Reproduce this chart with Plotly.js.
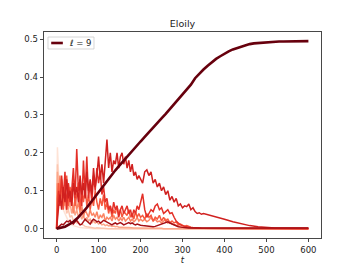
<!DOCTYPE html>
<html>
<head>
<meta charset="utf-8">
<script src="https://cdn.plot.ly/plotly-3.0.1.min.js"></script>
<style>html,body{margin:0;padding:0;background:#fff;}#chart{width:357px;height:268px;}</style>
</head>
<body>
<div id="chart"></div>
<script>
// Sample times for the noisy curves
const T = [0,2,5,
8,12,16,20,24,28,32,36,40,44,
48,52,56,60,64,68,72,76,80,84,
88,92,96,100,104,108,112,116,120,124,
128,132,136,140,144,148,152,156,160,164,
168,172,176,180,184,188,192,196,200,
205,210,215,220,225,230,235,240,245,250,
255,260,265,270,275,280,285,290,295,300,
305,310,315,320,325,330,335,340,345,350,
360,380,400,420,440,460,480,500,520,540,560,580,600];

// ell = 1
const ell1 = [0,0.215,0.14,
0.1,0.07,0.05,0.04,0.03,0.02,0.015,0.01,0.008,0.006,
0.005,0.004,0.003,0.002,0.002,0.001,0.001,0.001,0,0,
0,0,0,0,0,0,0,0,0,0,
0,0,0,0,0,0,0,0,0,0,
0,0,0,0,0,0,0,0,0,
0,0,0,0,0,0,0,0,0,0,
0,0,0,0,0,0,0,0,0,0,
0,0,0,0,0,0,0,0,0,0,
0,0,0,0,0,0,0,0,0,0,0,0,0];
// ell = 2
const ell2 = [0,0.17,0.12,
0.09,0.11,0.06,0.08,0.04,0.05,0.03,0.035,0.02,0.025,
0.015,0.018,0.01,0.012,0.008,0.006,0.005,0.004,0.003,0.002,
0.002,0.001,0.002,0.001,0.001,0.001,0.001,0,0,0,
0,0,0,0,0,0,0,0,0,0,
0,0,0,0,0,0,0,0,0,
0,0,0,0,0,0,0,0,0,0,
0,0,0,0,0,0,0,0,0,0,
0,0,0,0,0,0,0,0,0,0,
0,0,0,0,0,0,0,0,0,0,0,0,0];
// ell = 3
const ell3 = [0,0.15,0.1,
0.13,0.08,0.1,0.06,0.09,0.05,0.07,0.04,0.06,0.035,
0.05,0.03,0.04,0.025,0.035,0.02,0.03,0.02,0.025,0.015,
0.02,0.015,0.018,0.012,0.015,0.01,0.012,0.008,0.01,0.007,
0.008,0.006,0.007,0.005,0.006,0.004,0.005,0.004,0.003,0.004,
0.003,0.003,0.002,0.003,0.002,0.002,0.002,0.001,0.002,
0.001,0.002,0.001,0.001,0.001,0.001,0.001,0.001,0.001,0.001,
0,0,0,0,0,0,0,0,0,0,
0,0,0,0,0,0,0,0,0,0,
0,0,0,0,0,0,0,0,0,0,0,0,0];
// ell = 4
const ell4 = [0,0.12,0.08,
0.14,0.06,0.11,0.09,0.05,0.12,0.07,0.09,0.04,0.08,
0.05,0.07,0.04,0.06,0.03,0.05,0.04,0.03,0.05,0.035,
0.04,0.03,0.045,0.025,0.035,0.03,0.04,0.02,0.03,0.025,
0.03,0.02,0.035,0.025,0.03,0.02,0.028,0.022,0.03,0.02,
0.025,0.03,0.02,0.025,0.018,0.022,0.03,0.02,0.025,
0.02,0.025,0.018,0.022,0.03,0.02,0.025,0.018,0.02,0.015,
0.02,0.025,0.015,0.018,0.012,0.01,0.008,0.006,0.005,0.004,
0.003,0.003,0.002,0.002,0.002,0.001,0.001,0.001,0.001,0.001,
0,0,0,0,0,0,0,0,0,0,0,0,0];
// ell = 5
const ell5 = [0,0.08,0.12,
0.07,0.13,0.05,0.1,0.14,0.06,0.11,0.08,0.13,0.06,
0.09,0.12,0.05,0.1,0.07,0.11,0.06,0.09,0.05,0.08,
0.06,0.1,0.07,0.05,0.08,0.06,0.09,0.05,0.07,0.04,
0.06,0.03,0.05,0.04,0.06,0.035,0.05,0.03,0.045,0.04,
0.035,0.05,0.03,0.04,0.025,0.045,0.03,0.04,0.03,
0.035,0.025,0.04,0.03,0.035,0.02,0.03,0.025,0.035,0.02,
0.03,0.02,0.025,0.015,0.02,0.015,0.018,0.01,0.012,0.008,
0.006,0.008,0.005,0.004,0.003,0.003,0.002,0.002,0.001,0.001,
0.001,0,0,0,0,0,0,0,0,0,0,0,0];
// ell = 6
const ell6 = [0,0.05,0.1,
0.06,0.14,0.08,0.15,0.05,0.12,0.07,0.1,0.16,0.08,
0.21,0.1,0.13,0.06,0.18,0.09,0.19,0.08,0.12,0.07,
0.14,0.1,0.16,0.12,0.15,0.09,0.11,0.07,0.08,0.05,
0.06,0.04,0.07,0.05,0.06,0.03,0.05,0.06,0.04,0.05,
0.06,0.04,0.05,0.03,0.05,0.04,0.06,0.05,0.07,
0.092,0.05,0.03,0.04,0.05,0.045,0.06,0.065,0.05,0.055,
0.04,0.045,0.05,0.04,0.042,0.03,0.02,0.015,0.01,0.008,
0.006,0.005,0.004,0.003,0.003,0.002,0.002,0.001,0.001,0.001,
0.001,0.001,0,0,0,0,0,0,0,0,0,0,0];
// ell = 7
const ell7 = [0,0.03,0.06,
0.09,0.05,0.11,0.07,0.13,0.08,0.1,0.06,0.12,0.09,
0.11,0.07,0.14,0.09,0.12,0.08,0.15,0.1,0.13,0.09,
0.16,0.11,0.14,0.19,0.13,0.17,0.12,0.18,0.235,0.16,
0.2,0.15,0.18,0.17,0.2,0.16,0.19,0.2,0.17,0.19,
0.16,0.18,0.15,0.17,0.14,0.15,0.13,0.14,0.13,
0.12,0.15,0.155,0.14,0.15,0.12,0.13,0.11,0.12,0.1,
0.11,0.09,0.1,0.075,0.085,0.07,0.08,0.06,0.065,0.055,
0.06,0.058,0.065,0.05,0.055,0.045,0.04,0.042,0.038,0.04,
0.037,0.032,0.025,0.018,0.012,0.008,0.005,0.003,0.002,0.002,0.002,0.002,0.002];
// ell = 8
const ell8 = [0,0.002,0.005,
0.008,0.012,0.01,0.015,0.02,0.018,0.022,0.015,0.012,0.018,
0.022,0.015,0.01,0.012,0.018,0.025,0.02,0.015,0.012,0.02,
0.025,0.022,0.018,0.02,0.015,0.018,0.022,0.02,0.018,0.015,
0.012,0.01,0.013,0.015,0.012,0.014,0.016,0.013,0.01,0.012,
0.014,0.016,0.013,0.015,0.012,0.01,0.012,0.01,0.009,
0.008,0.007,0.006,0.005,0.004,0.005,0.006,0.008,0.01,0.012,
0.014,0.016,0.018,0.015,0.012,0.01,0.007,0.005,0.004,0.003,
0.002,0.002,0.002,0.002,0.002,0.002,0.002,0.002,0.002,0.002,
0.002,0.002,0.002,0.002,0.002,0.002,0.002,0.002,0.002,0.002,0.002,0.002,0.002];

// ell = 9 (smooth curve)
const tS = [0,10,20,30,40,50,60,70,80,90,
100,110,120,130,140,150,160,170,180,190,
200,210,220,230,240,250,260,270,280,290,
300,310,320,330,340,350,360,370,380,390,
400,410,420,430,440,450,460,470,480,490,
500,510,520,530,540,550,560,570,580,590,600];
const ell9 = [0,0.002,0.005,0.011,0.018,0.028,0.04,0.053,0.067,0.082,
0.097,0.112,0.126,0.14,0.154,0.167,0.18,0.193,0.206,0.219,
0.23,0.242,0.255,0.268,0.28,0.291,0.303,0.316,0.328,0.34,
0.353,0.367,0.38,0.397,0.41,0.42,0.43,0.44,0.448,0.455,
0.462,0.468,0.473,0.477,0.481,0.484,0.487,0.489,0.49,0.491,
0.492,0.493,0.493,0.494,0.494,0.494,0.494,0.495,0.495,0.495,0.495];

const noisy = [ell1, ell2, ell3, ell4, ell5, ell6, ell7, ell8];
const colors = ['#fee3d6','#fdc6b0','#fca689','#fb8464','#f6583e','#e32f27','#d0201f','#a50f15'];
const xTicks = [0,100,200,300,400,500,600];
const yTicks = [0,0.1,0.2,0.3,0.4,0.5];

const traces = noisy.map((v, i) => ({
  x: T, y: v, type: 'scatter', mode: 'lines',
  line: {color: colors[i], width: 1.5}, showlegend: false, hoverinfo: 'skip'
}));
traces.push({x: tS, y: ell9, type: 'scatter', mode: 'lines',
  line: {color: '#67000d', width: 2.6}, showlegend: false, hoverinfo: 'skip'});

const font = {family: 'DejaVu Sans, sans-serif', size: 8.5, color: '#222'};
const axisCommon = {
  showgrid: false, zeroline: false, showline: true, mirror: true,
  linecolor: '#333', linewidth: 0.9, ticks: 'outside', ticklen: 3.5,
  tickwidth: 0.9, tickcolor: '#333', tickfont: font
};
const layout = {
  width: 357, height: 268,
  margin: {l: 44, r: 36, t: 32, b: 30, pad: 0},
  paper_bgcolor: '#fff', plot_bgcolor: '#fff',
  font: font,
  title: {text: 'Eloily', font: {family: 'DejaVu Sans, sans-serif', size: 9.5, color: '#222'},
          xref: 'paper', x: 0.5, xanchor: 'center', yref: 'container', y: 1 - 24/268, yanchor: 'middle'},
  xaxis: Object.assign({}, axisCommon, {range: [-30, 630], tickvals: xTicks,
          title: {text: '<i>t</i>', font: font, standoff: 3}}),
  yaxis: Object.assign({}, axisCommon, {range: [-0.0247, 0.519], tickvals: yTicks, tickformat: '.1f'}),
  shapes: [
    {type: 'rect', xref: 'paper', yref: 'paper', x0: 0.0144, x1: 0.1805, y0: 0.9175, y1: 0.9757,
     line: {color: '#cccccc', width: 0.8}, fillcolor: 'rgba(255,255,255,0.8)'},
    {type: 'line', xref: 'paper', yref: 'paper', x0: 0.026, x1: 0.068, y0: 0.9466, y1: 0.9466,
     line: {color: '#67000d', width: 2.6}}
  ],
  annotations: [
    {xref: 'paper', yref: 'paper', x: 0.083, y: 0.9466, xanchor: 'left', yanchor: 'middle',
     text: '<i>ℓ</i> = 9', showarrow: false, font: font}
  ]
};
Plotly.newPlot('chart', traces, layout, {displayModeBar: false, staticPlot: true});
</script>
</body>
</html>
